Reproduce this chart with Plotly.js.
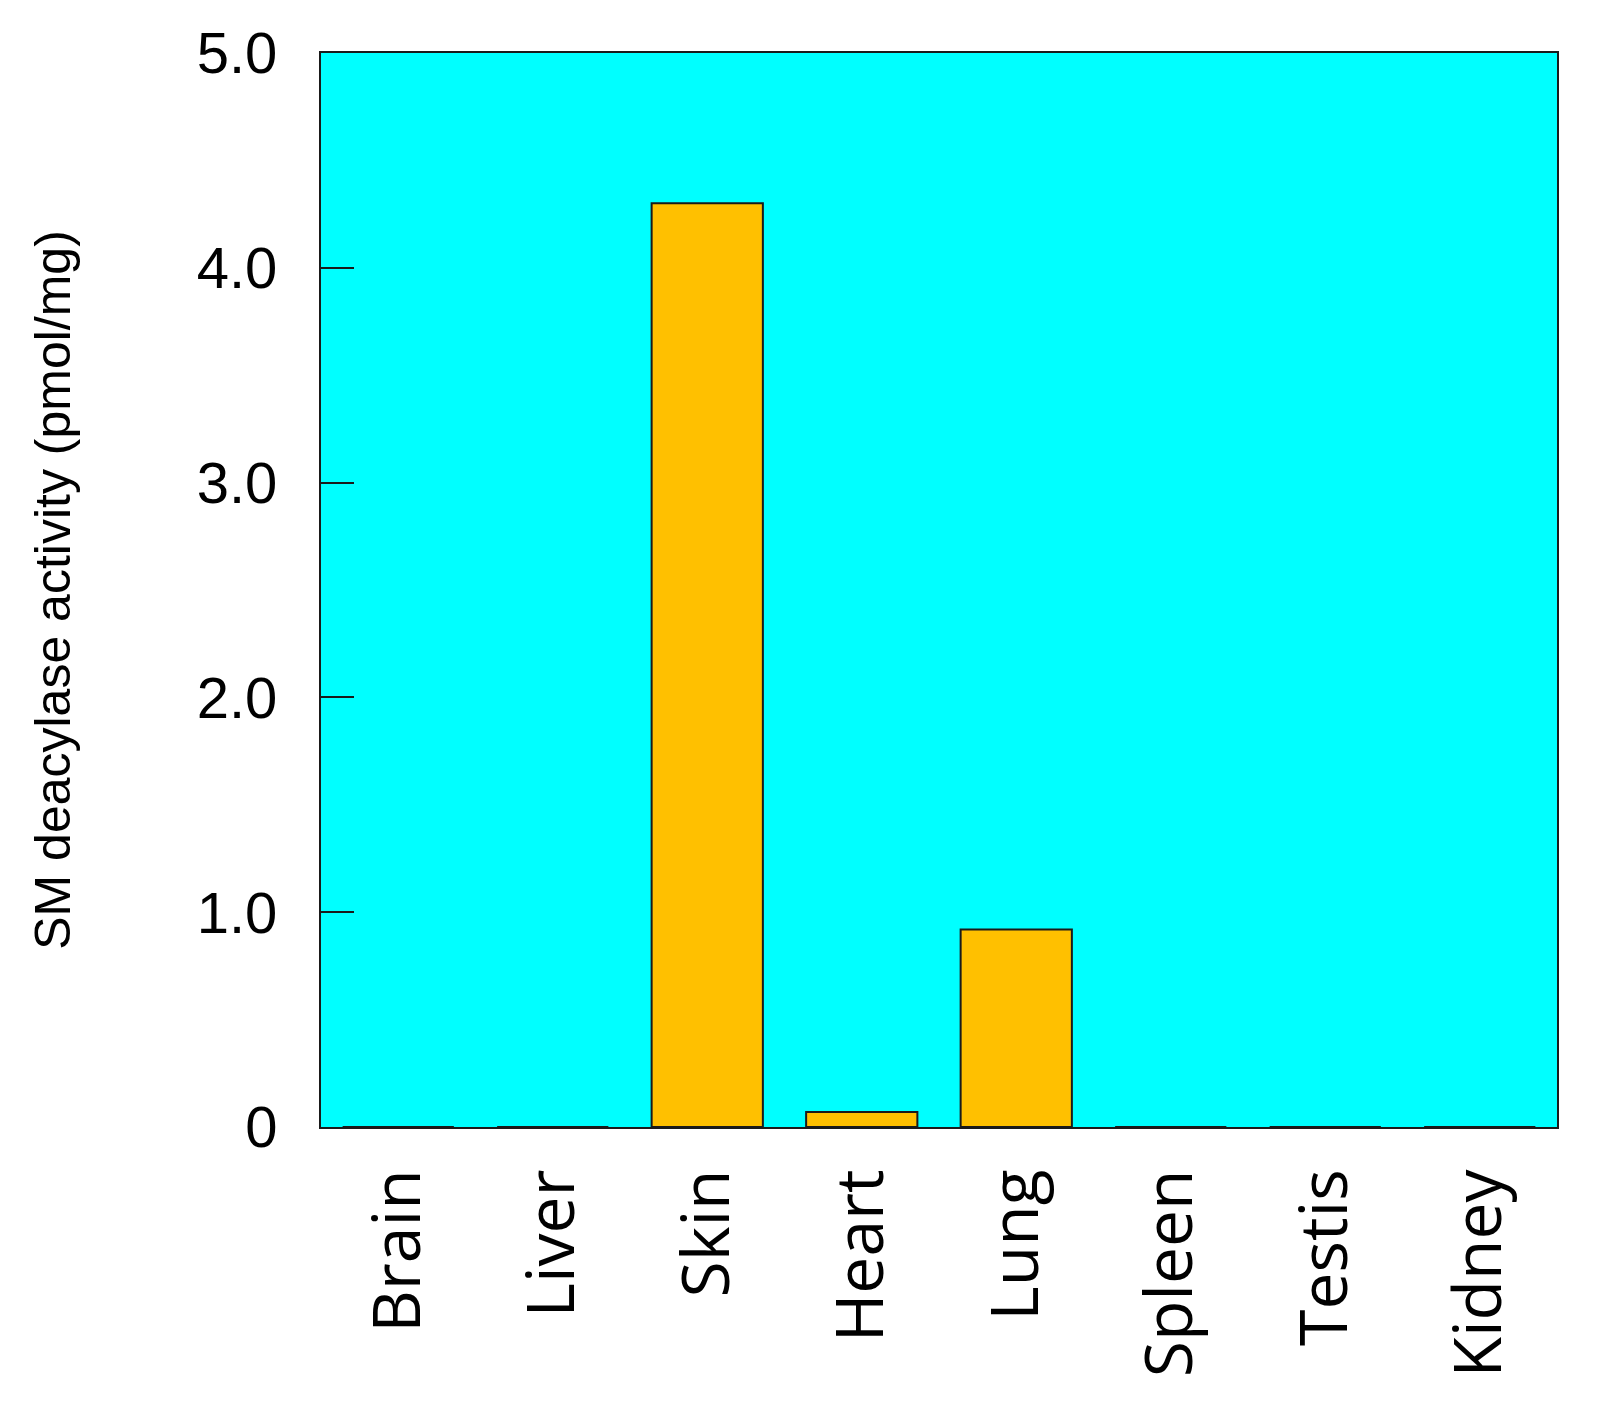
<!DOCTYPE html>
<html>
<head>
<meta charset="utf-8">
<script src="https://cdn.plot.ly/plotly-3.0.1.min.js"></script>
<style>
  body { margin: 0; background: #fff; }
  #chart { width: 1618px; height: 1414px; }
</style>
</head>
<body>
<div id="chart"></div>
<script>
// tissues and measured SM deacylase activity (pmol/mg)
let tissues = ['Brain', 'Liver', 'Skin', 'Heart', 'Lung', 'Spleen', 'Testis', 'Kidney'];
let activity = [0, 0, 4.3, 0.07, 0.92, 0, 0, 0];

let yTickVals = [0, 1, 2, 3, 4, 5];
let yTickText = ['0', '1.0', '2.0', '3.0', '4.0', '5.0'];

let bars = {
  x: tissues,
  y: activity,
  type: 'bar',
  marker: {
    color: '#FFC000',
    line: { color: '#1a1a1a', width: 2 }
  },
  hoverinfo: 'x+y'
};

let layout = {
  width: 1618,
  height: 1414,
  margin: { l: 321, r: 61, t: 53, b: 287 },
  paper_bgcolor: '#ffffff',
  plot_bgcolor: '#00FFFF',
  bargap: 0.28,
  showlegend: false,
  font: { family: 'Liberation Sans, Arial, sans-serif', color: '#000' },
  xaxis: {
    tickangle: -90,
    ticks: '',
    showline: true,
    mirror: true,
    linecolor: '#1a1a1a',
    linewidth: 2,
    showgrid: false,
    ticklabelstandoff: 14,
    tickfont: { family: 'Open Sans, sans-serif', size: 66, color: '#000' }
  },
  yaxis: {
    range: [0, 5],
    tickvals: yTickVals,
    ticktext: yTickText,
    ticks: 'inside',
    ticklen: 33,
    tickwidth: 2,
    tickcolor: '#1a1a1a',
    showline: true,
    mirror: true,
    linecolor: '#1a1a1a',
    linewidth: 2,
    showgrid: false,
    zeroline: false,
    ticklabelstandoff: 30,
    tickfont: { family: 'Liberation Sans, Arial, sans-serif', size: 58, color: '#000' },
    title: {
      text: 'SM deacylase activity (pmol/mg)',
      standoff: 110,
      font: { family: 'Liberation Sans, Arial, sans-serif', size: 50, color: '#000' }
    }
  }
};

Plotly.newPlot('chart', [bars], layout, { displayModeBar: false });
</script>
</body>
</html>
